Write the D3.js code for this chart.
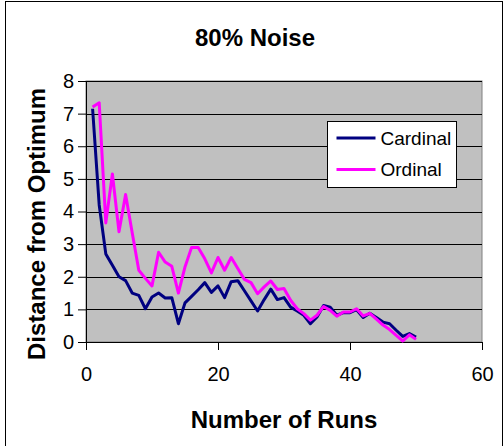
<!DOCTYPE html>
<html>
<head>
<meta charset="utf-8">
<script src="https://cdnjs.cloudflare.com/ajax/libs/d3/7.8.5/d3.min.js"></script>
<style>
    body { margin: 0; background: #fff; }
    text { font-family: 'Liberation Sans', Arial, sans-serif; }
</style>
</head>
<body>
<div id="chart"></div>
<script>
var runs = d3.range(1, 51);
var cardinal = [7.15, 4.2, 2.7, 2.35, 2.0, 1.88, 1.5, 1.43, 1.02, 1.38,
    1.5, 1.35, 1.36, 0.56, 1.2, 1.4, 1.6, 1.82, 1.52, 1.72,
    1.36, 1.85, 1.88, 1.57, 1.26, 0.95, 1.3, 1.62, 1.3, 1.36,
    1.07, 0.95, 0.82, 0.56, 0.77, 1.12, 1.07, 0.82, 0.9, 0.9,
    0.99, 0.75, 0.88, 0.75, 0.61, 0.56, 0.36, 0.17, 0.26, 0.15];
var ordinal = [7.2, 7.33, 3.65, 5.15, 3.38, 4.52, 3.35, 2.2, 1.95, 1.72,
    2.75, 2.45, 2.32, 1.5, 2.3, 2.9, 2.9, 2.55, 2.12, 2.59,
    2.2, 2.59, 2.25, 1.92, 1.82, 1.48, 1.69, 1.87, 1.61, 1.64,
    1.28, 1.02, 0.87, 0.67, 0.82, 1.09, 0.97, 0.79, 0.92, 0.92,
    1.02, 0.8, 0.88, 0.7, 0.52, 0.38, 0.2, 0.03, 0.22, 0.08];
var xTicks = [0, 20, 40, 60];
var yTicks = [0, 1, 2, 3, 4, 5, 6, 7, 8];
var seriesNames = ['Cardinal', 'Ordinal'];
var seriesColours = ['#000080', '#ff00ff'];

var width = 504, height = 446;
var plot = {left: 86, right: 482, top: 81, bottom: 342};

var svg = d3.select('#chart')
    .append('svg')
    .attr('width', width)
    .attr('height', height);

// outer chart frame (bottom edge is off the picture)
svg.append('rect')
    .attr('x', 5.5)
    .attr('y', 1.5)
    .attr('width', 497)
    .attr('height', 460)
    .attr('fill', '#fff')
    .attr('stroke', '#000');

var x = d3.scaleLinear()
    .domain([0, 60])
    .range([plot.left, plot.right]);

var y = d3.scaleLinear()
    .domain([0, 8])
    .range([plot.bottom, plot.top]);

svg.append('rect')
    .attr('x', plot.left)
    .attr('y', plot.top)
    .attr('width', plot.right - plot.left)
    .attr('height', plot.bottom - plot.top)
    .attr('fill', '#c0c0c0')
    .attr('stroke', '#808080');

// gridlines
svg.append('g')
    .selectAll('line')
    .data(yTicks.slice(1))
    .enter()
    .append('line')
    .attr('x1', plot.left)
    .attr('x2', plot.right)
    .attr('y1', function(d) { return Math.round(y(d)) + 0.5; })
    .attr('y2', function(d) { return Math.round(y(d)) + 0.5; })
    .attr('stroke', '#000')
    .attr('stroke-width', 1);

var xAxis = d3.axisBottom(x)
    .tickValues(xTicks)
    .tickSize(8)
    .tickSizeOuter(0)
    .tickPadding(17);

var yAxis = d3.axisLeft(y)
    .tickValues(yTicks)
    .tickSize(8)
    .tickSizeOuter(0)
    .tickPadding(4);

var gx = svg.append('g')
    .attr('transform', 'translate(0,' + plot.bottom + ')')
    .call(xAxis);

var gy = svg.append('g')
    .attr('transform', 'translate(' + plot.left + ',0)')
    .call(yAxis);

[gx, gy].forEach(function(g) {
    g.select('.domain').attr('stroke', '#000');
    g.selectAll('.tick line').attr('stroke', '#000');
    g.selectAll('.tick text')
        .attr('fill', '#000')
        .style('font-family', "'Liberation Sans', Arial, sans-serif")
        .style('font-size', '20px');
});

var line = d3.line()
    .x(function(d, i) { return x(runs[i]); })
    .y(function(d) { return y(d); });

svg.append('g')
    .selectAll('path')
    .data([cardinal, ordinal])
    .enter()
    .append('path')
    .attr('d', line)
    .attr('fill', 'none')
    .attr('stroke', function(d, i) { return seriesColours[i]; })
    .attr('stroke-width', 3)
    .attr('stroke-linejoin', 'round');

// legend
var legend = svg.append('g')
    .attr('transform', 'translate(327.5,121.5)');

legend.append('rect')
    .attr('width', 129)
    .attr('height', 66)
    .attr('fill', '#fff')
    .attr('stroke', '#000');

var items = legend.selectAll('.legend-item')
    .data(seriesNames)
    .enter()
    .append('g')
    .classed('legend-item', true)
    .attr('transform', function(d, i) { return 'translate(0,' + (16.5 + i * 31.5) + ')'; });

items.append('line')
    .attr('x1', 9)
    .attr('x2', 48)
    .attr('stroke', function(d, i) { return seriesColours[i]; })
    .attr('stroke-width', 3);

items.append('text')
    .attr('x', 53)
    .attr('dy', '0.35em')
    .style('font-size', '19px')
    .text(function(d) { return d; });

// titles
svg.append('text')
    .attr('x', 255)
    .attr('y', 46)
    .attr('text-anchor', 'middle')
    .style('font-size', '24px')
    .style('font-weight', 'bold')
    .text('80% Noise');

svg.append('text')
    .attr('x', (plot.left + plot.right) / 2)
    .attr('y', 428)
    .attr('text-anchor', 'middle')
    .style('font-size', '24px')
    .style('font-weight', 'bold')
    .text('Number of Runs');

svg.append('text')
    .attr('transform', 'translate(45,224) rotate(-90)')
    .attr('text-anchor', 'middle')
    .style('font-size', '24px')
    .style('font-weight', 'bold')
    .text('Distance from Optimum');
</script>
</body>
</html>
